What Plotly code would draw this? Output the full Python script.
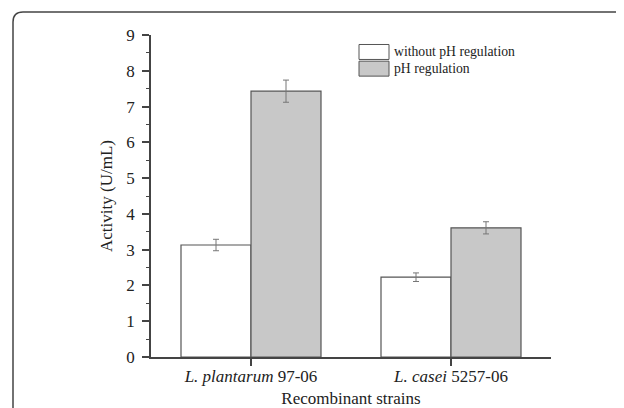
import plotly.graph_objects as go

strains = ["L. plantarum 97-06", "L. casei 5257-06"]
strain_labels = ["<i>L. plantarum</i> 97-06", "<i>L. casei</i> 5257-06"]
without_ph = [3.13, 2.23]
without_ph_err = [0.16, 0.12]
with_ph = [7.43, 3.61]
with_ph_err = [0.31, 0.17]
series_names = ["without pH regulation", "pH regulation"]
y_ticks = [0, 1, 2, 3, 4, 5, 6, 7, 8, 9]

FONT = "Liberation Serif, Times New Roman, serif"
OFF = 8  # page body margin offset in the browser window
W, H = 624 - OFF, 408 - OFF
# plot area in window pixels: x 151..551, y 35..357.5
ML, MT = 151 - OFF, 35 - OFF
MR = W - (551 - OFF)
MB = H - (357.5 - OFF)
PW, PH = W - ML - MR, H - MT - MB

def px(x):
    return (x - OFF - ML) / PW

def py(y):
    return (H - MB - (y - OFF)) / PH

fig = go.Figure()
fig.add_trace(go.Bar(
    x=strains, y=without_ph, name=series_names[0],
    marker=dict(color="white", line=dict(color="#555555", width=1.2)),
    error_y=dict(type="data", array=without_ph_err, color="#777777", thickness=1, width=3),
    showlegend=False,
))
fig.add_trace(go.Bar(
    x=strains, y=with_ph, name=series_names[1],
    marker=dict(color="#c8c8c8", line=dict(color="#555555", width=1.2)),
    error_y=dict(type="data", array=with_ph_err, color="#777777", thickness=1, width=3),
    showlegend=False,
))

# legend drawn manually (boxes + text)
legend_fill = ["white", "#c8c8c8"]
shapes = []
annotations = []
for i, (nm, fc) in enumerate(zip(series_names, legend_fill)):
    top = 44.5 + i * 16.7
    shapes.append(dict(type="rect", xref="paper", yref="paper",
                       x0=px(359), x1=px(389), y0=py(top + 15), y1=py(top),
                       fillcolor=fc, line=dict(color="#555555", width=1)))
    annotations.append(dict(xref="paper", yref="paper", x=px(392), y=py(top + 7.5),
                            text=nm, showarrow=False, xanchor="left", yanchor="middle",
                            font=dict(family=FONT, size=13.7, color="#222222")))

# rounded outer frame
r = 10
path = (f"M {px(13)},{py(430)} L {px(13)},{py(12 + r)} "
        f"Q {px(13)},{py(12)} {px(13 + r)},{py(12)} L {px(650)},{py(12)}")
shapes.append(dict(type="path", xref="paper", yref="paper", path=path,
                   line=dict(color="#444444", width=1.5)))

fig.update_layout(
    width=W, height=H,
    margin=dict(l=ML, r=MR, t=MT, b=MB, autoexpand=False),
    paper_bgcolor="white", plot_bgcolor="white",
    barmode="group", bargap=0.3, bargroupgap=0,
    font=dict(family=FONT, size=17, color="#222222"),
    shapes=shapes, annotations=annotations,
    showlegend=False,
)
fig.update_xaxes(
    automargin=False,
    range=[-0.5, 1.5], tickvals=strains, ticktext=strain_labels,
    showline=True, linecolor="#444444", linewidth=1.5,
    ticks="outside", ticklen=7, tickcolor="#444444", tickwidth=1.5,
    ticklabelstandoff=-4,
    showgrid=False, zeroline=False,
    title=dict(text="Recombinant strains", standoff=7, font=dict(size=17)),
    tickfont=dict(size=17),
)
fig.update_yaxes(
    automargin=False,
    range=[0, 9], tickvals=y_ticks,
    showline=True, linecolor="#444444", linewidth=1.5,
    ticks="outside", ticklen=7, tickcolor="#444444", tickwidth=1.5,
    ticklabelstandoff=4,
    minor=dict(dtick=0.5, ticks="outside", ticklen=3.5, tickcolor="#444444", tickwidth=1.2),
    showgrid=False, zeroline=False,
    title=dict(text="Activity (U/mL)", standoff=9, font=dict(size=17)),
    tickfont=dict(size=17),
)

fig.write_html("out.html")
